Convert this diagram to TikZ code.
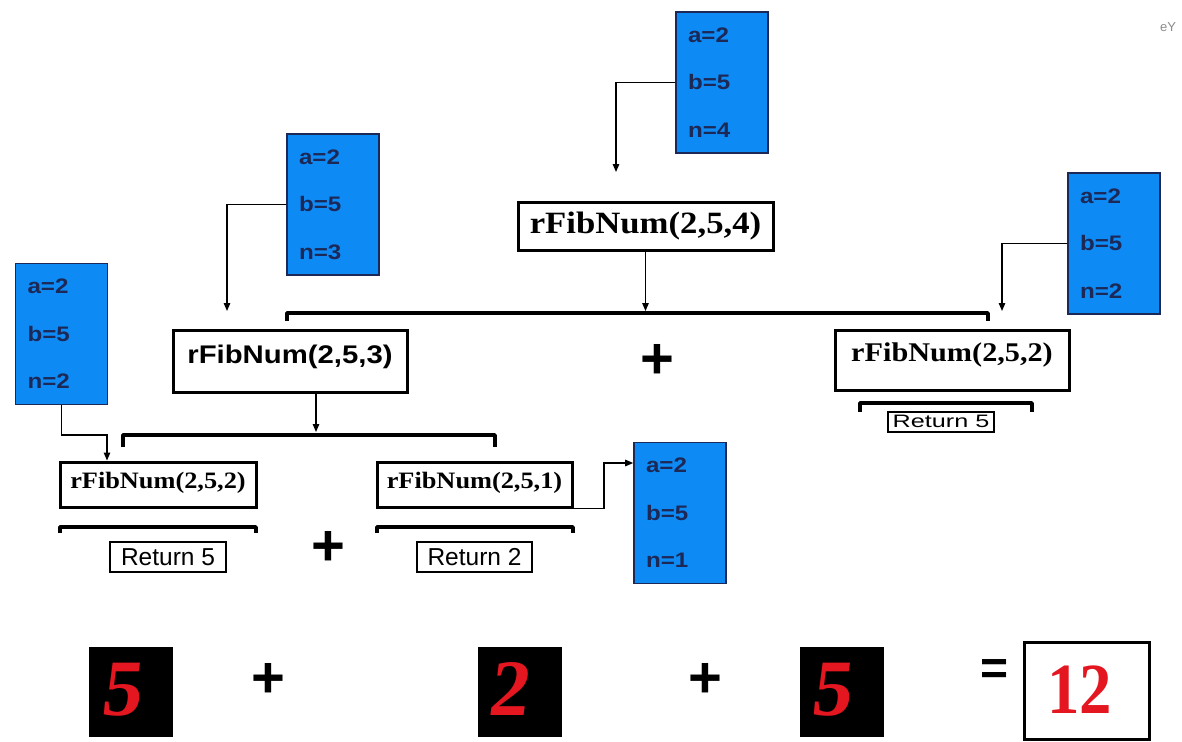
\documentclass[tikz,border=0pt]{standalone}
\usepackage{fontspec}
\usepackage{graphicx}
\usetikzlibrary{arrows.meta}
\setmainfont{Liberation Serif}
\newfontfamily\ArialX[FakeStretch=1.15]{Liberation Sans}
\newfontfamily\ArialN{Liberation Sans}
\newfontfamily\ArialW[FakeStretch=1.4]{Liberation Sans}
\newfontfamily\TimesX[FakeStretch=1.12]{Liberation Serif}
\newfontfamily\TimesN{Liberation Serif}
\newfontfamily\TimesS[FakeSlant=0.13]{Liberation Serif}
\definecolor{pblue}{RGB}{14,138,245}
\definecolor{pnavy}{RGB}{28,40,85}
\definecolor{dred}{RGB}{228,22,32}
\begin{document}
\begin{tikzpicture}[x=1pt,y=-1pt,
  pbox/.style={draw=pnavy, line width=1.6pt, fill=pblue, text=pnavy, text width=68pt,
    inner xsep=12pt, inner ysep=0pt, minimum height=141pt, align=left,
    font=\ArialX\bfseries\fontsize{21pt}{47.5pt}\selectfont},
  fbox/.style={draw, line width=3pt, fill=white, inner sep=0pt, anchor=base},
  rbox/.style={draw, line width=2pt, fill=white, inner sep=0pt, anchor=base},
  conn/.style={line width=1.3pt, -{Triangle[length=8pt,width=6.5pt]}},
  brk/.style={line width=3.5pt, line join=round},
  op/.style={inner sep=0pt, font=\ArialN\bfseries\fontsize{58pt}{58pt}\selectfont},
  sq/.style={fill=black, inner sep=0pt, minimum width=84pt, minimum height=90pt},
  dig/.style={inner sep=0pt, text=dred, font=\TimesS\bfseries\fontsize{80pt}{80pt}\selectfont}
]
\fill[white] (0,0) rectangle (1182,741);
\useasboundingbox (0,0) rectangle (1182,741);

% parameter boxes
\node[pbox] (p4) at (722,82.5) {a=2\\b=5\\n=4};
\node[pbox] (p3) at (333,204.5) {a=2\\b=5\\n=3};
\node[pbox] (p2r) at (1114,243.5) {a=2\\b=5\\n=2};
\node[pbox] (p2l) at (61.5,334) {a=2\\b=5\\n=2};
\node[pbox] (p1) at (680,513) {a=2\\b=5\\n=1};

% function boxes
\node[fbox, minimum width=255pt, text height=31pt, text depth=17pt,
  font=\TimesX\bfseries\fontsize{31pt}{31pt}\selectfont] (f4) at (645.5,233) {rFibNum(2,5,4)};
\node[fbox, minimum width=234pt, text height=33pt, text depth=29pt,
  font=\ArialX\bfseries\fontsize{25.5pt}{26pt}\selectfont] (f3) at (290,363) {rFibNum(2,5,3)};
\node[fbox, minimum width=234pt, text height=31pt, text depth=29pt,
  font=\TimesX\bfseries\fontsize{27pt}{27pt}\selectfont] (f2r) at (952,361) {rFibNum(2,5,2)};
\node[fbox, minimum width=196pt, text height=26pt, text depth=19pt,
  font=\TimesX\bfseries\fontsize{23.5pt}{24pt}\selectfont] (f2l) at (158,488) {rFibNum(2,5,2)};
\node[fbox, minimum width=195pt, text height=26pt, text depth=19pt,
  font=\TimesX\bfseries\fontsize{23.5pt}{24pt}\selectfont] (f1) at (474.5,488) {rFibNum(2,5,1)};

% return boxes
\node[rbox, minimum width=116pt, text height=23pt, text depth=7pt,
  font=\ArialN\fontsize{24.5pt}{25pt}\selectfont] (r2l) at (168,565) {Return 5};
\node[rbox, minimum width=115pt, text height=23pt, text depth=7pt,
  font=\ArialN\fontsize{24.5pt}{25pt}\selectfont] (r1) at (474.5,565) {Return 2};
\node[rbox, minimum width=106pt, text height=15pt, text depth=5pt,
  font=\ArialW\fontsize{18pt}{18pt}\selectfont] (r2r) at (941,427) {Return 5};

% brackets
\draw[brk] (287,321) -- (287,313) -- (988,313) -- (988,321);
\draw[brk] (123,447) -- (123,435) -- (495,435) -- (495,447);
\draw[brk] (60,533) -- (60,527) -- (256,527) -- (256,533);
\draw[brk] (377,533) -- (377,527) -- (573,527) -- (573,533);
\draw[brk] (860,412) -- (860,403) -- (1032,403) -- (1032,412);

% operators
\node[op] (pl1) at (657,361) {+};
\node[op] (pl2) at (328,548) {+};
\node[op] (pl3) at (268,680) {+};
\node[op] (pl4) at (705,680) {+};
\node[op, font=\ArialN\bfseries\fontsize{48pt}{48pt}\selectfont] (eq) at (994,672.5) {=};

% result squares
\node[sq] (s1) at (131,692) {};
\node[sq] (s2) at (519.5,692) {};
\node[sq] (s3) at (842,692) {};
\node[dig] (d1) at ([xshift=-11pt,yshift=2.5pt]s1.center) {5};
\node[dig] (d2) at ([xshift=-12pt,yshift=2.5pt]s2.center) {2};
\node[dig] (d3) at ([xshift=-12pt,yshift=2.5pt]s3.center) {5};
\node[draw, line width=3pt, fill=white, minimum width=125pt, minimum height=97pt] (res) at (1086.5,690.5) {};
\node[inner sep=0pt, text=dred, font=\TimesN\bfseries\fontsize{72pt}{72pt}\selectfont] (rt) at ([xshift=-7pt,yshift=1pt]res.center) {\scalebox{0.9}[1]{12}};

% corner mark
\node[inner sep=0pt, text=black!45, font=\ArialN\fontsize{13pt}{13pt}\selectfont] (mk) at (1168,27) {eY};

% connectors
\coordinate (t4) at (616,172);
\draw[conn] (p4.west) -| (t4);
\coordinate (t3) at (227,311);
\draw[conn] (p3.west) -| (t3);
\coordinate (t2r) at (1002,311);
\draw[conn] (p2r.west) -| (t2r);
\coordinate (k2l) at (107,435);
\draw[conn] (p2l.south) |- (k2l) -- (k2l |- f2l.north);
\coordinate (k1) at (604,463);
\draw[conn] (f1.south east) -| (k1) -- (k1 -| p1.west);
\coordinate (b1) at (645.5,311);
\draw[conn] (f4.south) -- (b1);
\coordinate (b2) at (316,432);
\draw[conn] (b2 |- f3.south) -- (b2);
\end{tikzpicture}
\end{document}
